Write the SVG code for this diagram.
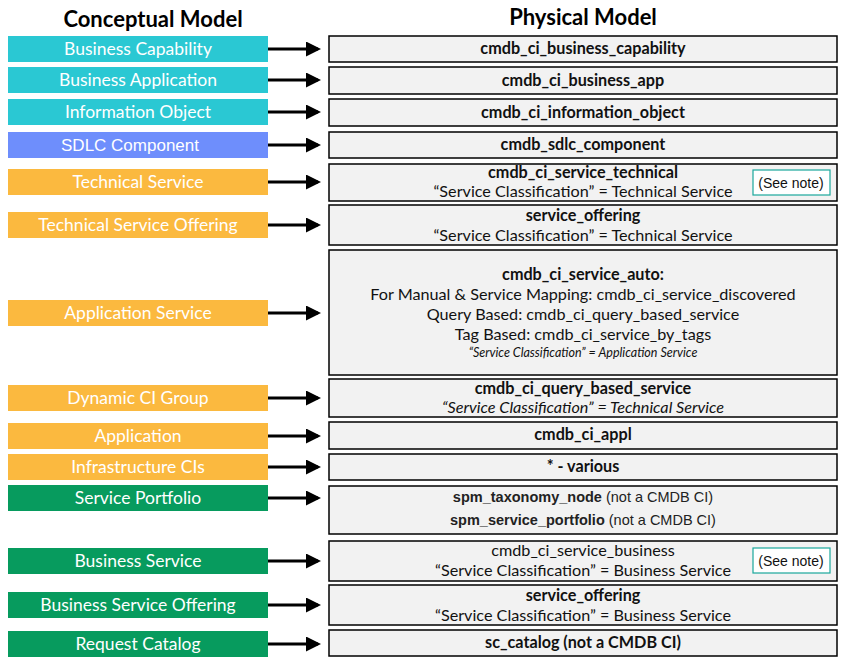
<svg xmlns="http://www.w3.org/2000/svg" width="847" height="664" viewBox="0 0 847 664">
<style>
text{font-family:Lato,"Open Sans",sans-serif;text-anchor:middle}
.h{font-size:22px;font-weight:bold;fill:#000}
.l{font-size:17.5px;fill:#fff}
.hv{font-family:"Liberation Sans",Arial,sans-serif}
.b{fill:#6e8efc}.o{fill:#fbb93f}.g{fill:#079b5e}
.r{fill:#f2f2f2;stroke:#000;stroke-width:1.5}
.p{font-size:16.2px;fill:#111}
.bd{font-weight:bold}
.it{font-style:italic;font-size:12.5px}
.n{fill:#fff;stroke:#1aa79c;stroke-width:1.2}
.s{font-size:14px;fill:#111}
.c line{stroke:#000;stroke-width:3;marker-end:url(#a)}
</style>
<defs><marker id="a" markerWidth="5" markerHeight="5" refX="4" refY="2.5" orient="auto" markerUnits="strokeWidth"><path d="M0,0L5,2.5L0,5z" fill="#000"/></marker></defs>
<text class="h" x="153" y="27">Conceptual Model</text>
<text class="h" x="583" y="25">Physical Model</text>
<g id="n1"><rect x="8" y="36" width="260" height="26" fill="#2ac8d3"/><text class="l" x="138" y="55">Business Capability</text></g>
<g id="n2"><rect x="8" y="67" width="260" height="26" fill="#2ac8d3"/><text class="l" x="138" y="86">Business Application</text></g>
<g id="n3"><rect x="8" y="99" width="260" height="26" fill="#2ac8d3"/><text class="l" x="138" y="118">Information Object</text></g>
<g id="n4"><rect x="8" y="132" width="260" height="26" class="b"/><text class="l hv" x="130" y="151" style="font-size:17px">SDLC Component</text></g>
<g id="n5"><rect x="8" y="169" width="260" height="26" class="o"/><text class="l" x="138" y="188">Technical Service</text></g>
<g id="n6"><rect x="8" y="212" width="260" height="26" class="o"/><text class="l" x="138" y="231">Technical Service Offering</text></g>
<g id="n7"><rect x="8" y="300" width="260" height="26" class="o"/><text class="l" x="138" y="319">Application Service</text></g>
<g id="n8"><rect x="8" y="385" width="260" height="26" class="o"/><text class="l" x="138" y="404">Dynamic CI Group</text></g>
<g id="n9"><rect x="8" y="423" width="260" height="26" class="o"/><text class="l" x="138" y="442">Application</text></g>
<g id="n10"><rect x="8" y="454" width="260" height="26" class="o"/><text class="l" x="138" y="473">Infrastructure CIs</text></g>
<g id="n11"><rect x="8" y="485" width="260" height="26" class="g"/><text class="l" x="138" y="504">Service Portfolio</text></g>
<g id="n12"><rect x="8" y="548" width="260" height="26" class="g"/><text class="l" x="138" y="567">Business Service</text></g>
<g id="n13"><rect x="8" y="592" width="260" height="26" class="g"/><text class="l" x="138" y="611">Business Service Offering</text></g>
<g id="n14"><rect x="8" y="631" width="260" height="26" class="g"/><text class="l" x="138" y="650">Request Catalog</text></g>

<g id="p1"><rect class="r" x="329" y="36" width="508" height="26"/><text class="p bd" x="583" y="54">cmdb_ci_business_capability</text></g>
<g id="p2"><rect class="r" x="329" y="67" width="508" height="27"/><text class="p bd" x="583" y="86">cmdb_ci_business_app</text></g>
<g id="p3"><rect class="r" x="329" y="99" width="508" height="27"/><text class="p bd" x="583" y="118">cmdb_ci_information_object</text></g>
<g id="p4"><rect class="r" x="329" y="132" width="508" height="26"/><text class="p bd" x="583" y="150">cmdb_sdlc_component</text></g>
<g id="p5"><rect class="r" x="329" y="164" width="508" height="37"/><text class="p bd" x="583" y="178">cmdb_ci_service_technical</text><text class="p" x="583" y="197">“Service Classification” = Technical Service</text>
<rect class="n" x="753" y="170" width="77" height="25"/><text class="hv s" x="791" y="188">(See note)</text></g>
<g id="p6"><rect class="r" x="329" y="205" width="508" height="40"/><text class="p bd" x="583" y="221">service_offering</text><text class="p" x="583" y="241">“Service Classification” = Technical Service</text></g>
<g id="p7"><rect class="r" x="329" y="250" width="508" height="125"/><text class="p bd" x="583" y="280">cmdb_ci_service_auto:</text><text class="p" x="583" y="300">For Manual &amp; Service Mapping: cmdb_ci_service_discovered</text><text class="p" x="583" y="320">Query Based: cmdb_ci_query_based_service</text><text class="p" x="583" y="340">Tag Based: cmdb_ci_service_by_tags</text><text class="p it" x="583" y="357">“Service Classification” = Application Service</text></g>
<g id="p8"><rect class="r" x="329" y="379" width="508" height="38"/><text class="p bd" x="583" y="394">cmdb_ci_query_based_service</text><text class="p" x="583" y="413" font-style="italic">“Service Classification” = Technical Service</text></g>
<g id="p9"><rect class="r" x="329" y="422" width="508" height="27"/><text class="p bd" x="583" y="440">cmdb_ci_appl</text></g>
<g id="p10"><rect class="r" x="329" y="454" width="508" height="26"/><text class="p bd" x="583" y="472">* - various</text></g>
<g id="p11"><rect class="r" x="329" y="486" width="508" height="48"/><text class="hv" x="583" y="502" style="font-size:14.5px;fill:#222"><tspan font-weight="bold">spm_taxonomy_node</tspan> (not a CMDB CI)</text><text class="hv" x="583" y="525" style="font-size:14.5px;fill:#222"><tspan font-weight="bold">spm_service_portfolio</tspan> (not a CMDB CI)</text></g>
<g id="p12"><rect class="r" x="329" y="541" width="508" height="40"/><text class="p" x="583" y="556">cmdb_ci_service_business</text><text class="p" x="583" y="576">“Service Classification” = Business Service</text>
<rect class="n" x="753" y="548" width="77" height="25"/><text class="hv s" x="791" y="566">(See note)</text></g>
<g id="p13"><rect class="r" x="329" y="585" width="508" height="40"/><text class="p bd" x="583" y="601">service_offering</text><text class="p" x="583" y="621">“Service Classification” = Business Service</text></g>
<g id="p14"><rect class="r" x="329" y="630" width="508" height="26"/><text class="p bd" x="583" y="648">sc_catalog (not a CMDB CI)</text></g>

<g class="c" id="connectors">
<line x1="268" y1="49" x2="318" y2="49"/>
<line x1="268" y1="80" x2="318" y2="80"/>
<line x1="268" y1="112" x2="318" y2="112"/>
<line x1="268" y1="145" x2="318" y2="145"/>
<line x1="268" y1="182" x2="318" y2="182"/>
<line x1="268" y1="225" x2="318" y2="225"/>
<line x1="268" y1="313" x2="318" y2="313"/>
<line x1="268" y1="398" x2="318" y2="398"/>
<line x1="268" y1="436" x2="318" y2="436"/>
<line x1="268" y1="467" x2="318" y2="467"/>
<line x1="268" y1="498" x2="318" y2="498"/>
<line x1="268" y1="561" x2="318" y2="561"/>
<line x1="268" y1="605" x2="318" y2="605"/>
<line x1="268" y1="644" x2="318" y2="644"/>
</g>
</svg>
